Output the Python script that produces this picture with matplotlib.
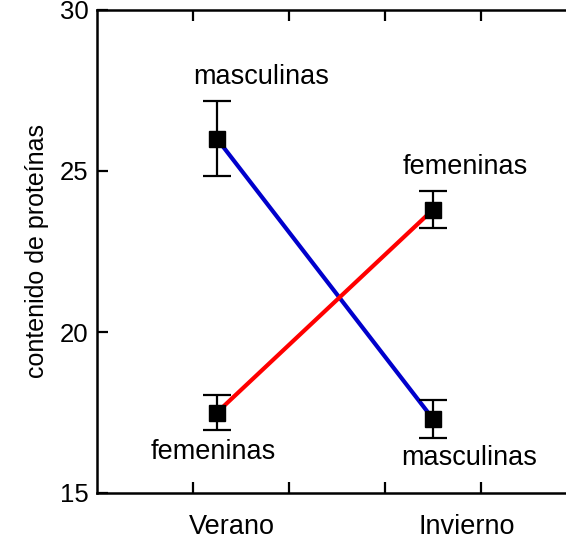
import matplotlib
matplotlib.use("Agg")
import matplotlib.pyplot as plt

plt.rcParams['font.family'] = ['Liberation Sans', 'DejaVu Sans']

seasons = ["Verano", "Invierno"]
x_pos = [1.25, 3.5]
masc_vals = [26.0, 17.3]
masc_err = [1.17, 0.58]
fem_vals = [17.5, 23.8]
fem_err = [0.55, 0.58]
yticks = [15, 20, 25, 30]

fig = plt.figure(figsize=(5.66, 5.42), dpi=100)
ax = fig.add_axes([97/566, 1 - 493/542, 480/566, 483/542])

ax.plot(x_pos, masc_vals, color='#0000cc', lw=3, zorder=2)
ax.plot(x_pos, fem_vals, color='#ff0000', lw=3, zorder=2)
for vals, errs in [(masc_vals, masc_err), (fem_vals, fem_err)]:
    ax.errorbar(x_pos, vals, yerr=errs, fmt='s', color='black', ms=12,
                elinewidth=1.6, capsize=10, capthick=1.6, zorder=3)

ax.set_xlim(0, 5)
ax.set_ylim(15, 30)
ax.set_yticks(yticks)
ax.set_xticks([1, 2, 3, 4])
ax.set_xticklabels([])
ax.tick_params(axis='y', direction='in', length=8, width=1.6, labelsize=18.5, pad=6)
ax.tick_params(axis='x', direction='in', length=8, width=1.6, top=True)
for s in ax.spines.values():
    s.set_linewidth(1.8)

ax.set_ylabel("contenido de proteínas", fontsize=18, labelpad=8)

# season labels
ax.text(1.41, 13.93, seasons[0], ha='center', va='center', fontsize=19.5)
ax.text(3.85, 13.93, seasons[1], ha='center', va='center', fontsize=19.5)

# group labels
ax.text(1.71, 27.92, "masculinas", ha='center', va='center', fontsize=19.5)
ax.text(3.84, 25.12, "femeninas", ha='center', va='center', fontsize=19.5)
ax.text(1.21, 16.28, "femeninas", ha='center', va='center', fontsize=19.5)
ax.text(3.875, 16.09, "masculinas", ha='center', va='center', fontsize=19.5)

fig.savefig("out.png", dpi=100)
